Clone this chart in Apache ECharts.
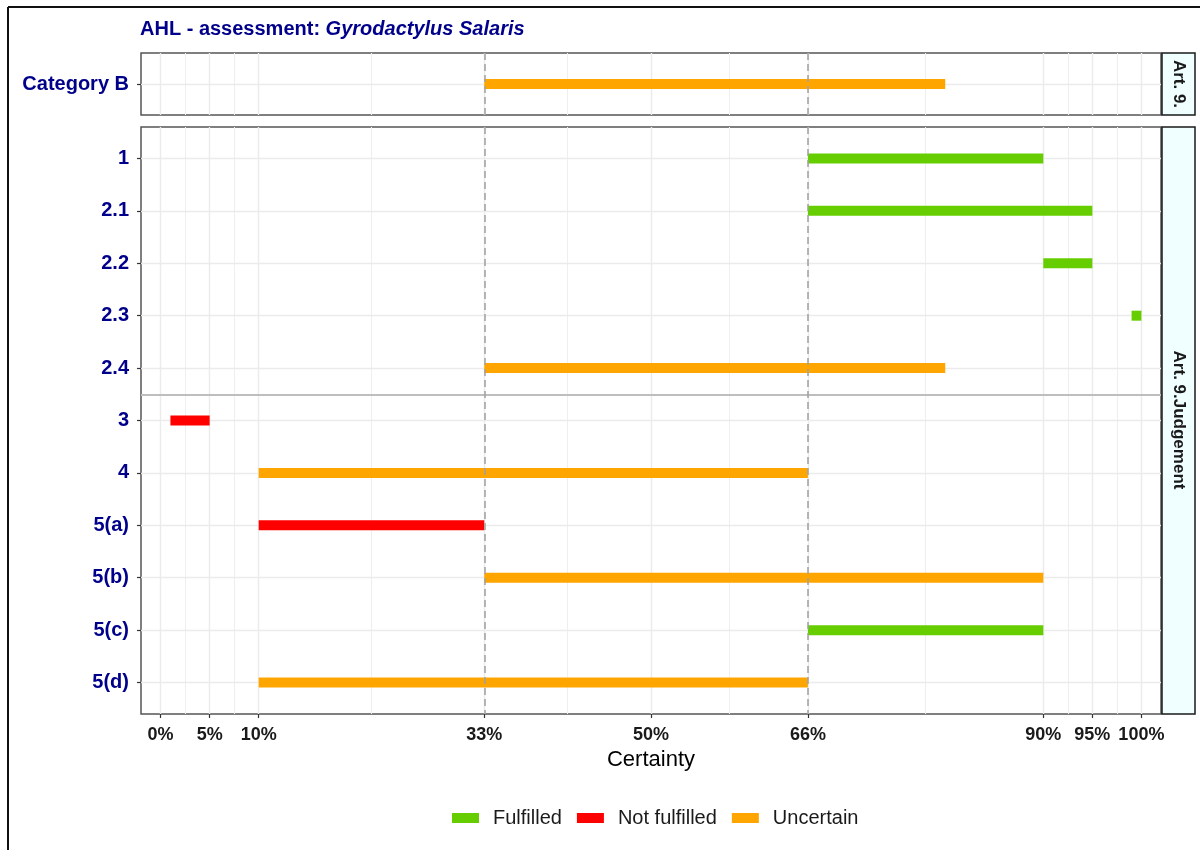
<!DOCTYPE html>
<html>
<head>
<meta charset="utf-8">
<title>AHL - assessment</title>
<script src="https://cdn.jsdelivr.net/npm/echarts@6/dist/echarts.min.js"></script>
<style>
html, body { margin: 0; padding: 0; background: #fff; }
#chart { width: 1200px; height: 850px; }
</style>
</head>
<body>
<div id="chart"></div>
<script>
// rows of the two facets
var topRows = ['Category B'];
var mainRows = ['1', '2.1', '2.2', '2.3', '2.4', '3', '4', '5(a)', '5(b)', '5(c)', '5(d)'];

// certainty range (%) and result for every row
var topLower = [33];
var topUpper = [80];
var topStatus = ['Uncertain'];
var mainLower = [66, 66, 90, 99, 33, 1, 10, 10, 33, 66, 10];
var mainUpper = [90, 95, 95, 100, 80, 5, 66, 33, 90, 90, 66];
var mainStatus = ['Fulfilled', 'Fulfilled', 'Fulfilled', 'Fulfilled', 'Uncertain', 'Not fulfilled',
    'Uncertain', 'Not fulfilled', 'Uncertain', 'Fulfilled', 'Uncertain'];

var statusNames = ['Fulfilled', 'Not fulfilled', 'Uncertain'];
var statusColors = ['#66CD00', '#FF0000', '#FFA500'];

// x breaks
var xBreaks = [0, 5, 10, 33, 50, 66, 90, 95, 100];
var xMinor = [2.5, 7.5, 21.5, 41.5, 58, 78, 92.5, 97.5];
var cutoffs = [33, 66];
var splitAt = 4.5; // between 2.4 and 3
var stripLabels = ['Art. 9.', 'Art. 9.Judgement'];

var darkBlue = '#00008B';
var font = '"Liberation Sans", Arial, Helvetica, sans-serif';

function range(n) {
    var a = [];
    for (var i = 0; i < n; i++) a.push(i);
    return a;
}

function renderBar(params, api) {
    var p0 = api.coord([api.value(0), api.value(2)]);
    var p1 = api.coord([api.value(1), api.value(2)]);
    var h = 10;
    return {
        type: 'rect',
        shape: { x: p0[0], y: p0[1] - h / 2, width: p1[0] - p0[0], height: h },
        style: api.style()
    };
}

var panels = [
    { rows: topRows, lower: topLower, upper: topUpper, status: topStatus },
    { rows: mainRows, lower: mainLower, upper: mainUpper, status: mainStatus }
];

var series = [];
panels.forEach(function (p, g) {
    // grid lines
    var lines = [];
    xMinor.forEach(function (v) {
        lines.push({ xAxis: v, lineStyle: { color: '#EFEFEF', width: 1, type: 'solid' } });
    });
    xBreaks.forEach(function (v) {
        lines.push({ xAxis: v, lineStyle: { color: '#EBEBEB', width: 1.4, type: 'solid' } });
    });
    range(p.rows.length).forEach(function (v) {
        lines.push({ yAxis: v, lineStyle: { color: '#EBEBEB', width: 1.4, type: 'solid' } });
    });
    if (g === 1) {
        lines.push({ yAxis: splitAt, lineStyle: { color: '#BEBEBE', width: 2, type: 'solid' } });
    }
    series.push({
        type: 'line', xAxisIndex: g, yAxisIndex: g, data: [], z: 1, silent: true,
        markLine: { silent: true, z: 1, symbol: ['none', 'none'], label: { show: false }, data: lines }
    });

    // bars per status
    statusNames.forEach(function (name, s) {
        var data = [];
        for (var i = 0; i < p.rows.length; i++) {
            if (p.status[i] === name) data.push([p.lower[i], p.upper[i], i]);
        }
        series.push({
            type: 'custom', name: name, xAxisIndex: g, yAxisIndex: g, z: 3,
            itemStyle: { color: statusColors[s] },
            encode: { x: [0, 1], y: 2 },
            renderItem: renderBar,
            data: data
        });
    });

    // 33% / 66% dashed lines
    series.push({
        type: 'line', xAxisIndex: g, yAxisIndex: g, data: [], z: 6, silent: true,
        markLine: {
            silent: true, z: 6, symbol: ['none', 'none'], label: { show: false },
            lineStyle: { color: '#A0A0A0', width: 1.5, type: [7, 4] },
            data: cutoffs.map(function (v) { return { xAxis: v }; })
        }
    });
});

var chart = echarts.init(document.getElementById('chart'));

var option = {
    animation: false,
    backgroundColor: '#fff',
    textStyle: { fontFamily: font },
    title: {
        text: '{b|AHL - assessment:} {i|Gyrodactylus Salaris}',
        left: 140, top: 19, padding: 0,
        textStyle: {
            fontSize: 20, color: darkBlue, fontFamily: font,
            rich: {
                b: { fontSize: 20, fontWeight: 'bold', color: darkBlue, fontFamily: font },
                i: { fontSize: 20, fontStyle: 'italic', color: darkBlue, fontFamily: font }
            }
        }
    },
    legend: {
        data: statusNames,
        left: 452, top: 808, padding: 0,
        icon: 'rect', itemWidth: 27, itemHeight: 10, itemGap: 15,
        textStyle: { fontSize: 20, color: '#1A1A1A', fontFamily: font, padding: [0, 0, 0, 9] }
    },
    grid: [
        { left: 141, right: 39, top: 53, height: 62, show: true, borderColor: '#555', borderWidth: 1.5 },
        { left: 141, right: 39, top: 127, height: 587, show: true, borderColor: '#555', borderWidth: 1.5 }
    ],
    xAxis: [
        {
            type: 'value', gridIndex: 0, min: -2, max: 102,
            axisLine: { show: false, onZero: false }, axisTick: { show: false },
            axisLabel: { show: false }, splitLine: { show: false }
        },
        {
            type: 'value', gridIndex: 1, min: -2, max: 102,
            name: 'Certainty', nameLocation: 'middle', nameGap: 33,
            nameTextStyle: { fontSize: 22, color: '#000', fontFamily: font },
            axisLine: { show: false, onZero: false },
            axisTick: { show: true, customValues: xBreaks, length: 4, lineStyle: { color: '#333', width: 1.2 } },
            axisLabel: {
                customValues: xBreaks, margin: 12,
                formatter: function (v) { return v + '%'; },
                fontSize: 18, fontWeight: 'bold', color: '#1A1A1A', fontFamily: font
            },
            splitLine: { show: false }
        }
    ],
    yAxis: panels.map(function (p, g) {
        var ticks = range(p.rows.length);
        return {
            type: 'value', gridIndex: g, inverse: true,
            min: -0.6, max: p.rows.length - 1 + 0.6,
            axisLine: { show: false, onZero: false },
            axisTick: { show: true, customValues: ticks, length: 4, lineStyle: { color: '#333', width: 1.2 } },
            axisLabel: {
                customValues: ticks, margin: 12,
                formatter: function (v) { return p.rows[Math.round(v)]; },
                fontSize: 20, fontWeight: 'bold', color: darkBlue, fontFamily: font
            },
            splitLine: { show: false }
        };
    }),
    graphic: [
        // outer frame
        { type: 'line', shape: { x1: 8, y1: 7, x2: 8, y2: 850 }, style: { stroke: '#111', lineWidth: 2 } },
        { type: 'line', shape: { x1: 8, y1: 7, x2: 1200, y2: 7 }, style: { stroke: '#111', lineWidth: 2 } },
        // facet strips
        { type: 'rect', shape: { x: 1162, y: 53, width: 33, height: 62 }, style: { fill: '#F0FFFF', stroke: '#1A1A1A', lineWidth: 1.5 } },
        { type: 'rect', shape: { x: 1162, y: 127, width: 33, height: 587 }, style: { fill: '#F0FFFF', stroke: '#1A1A1A', lineWidth: 1.5 } },
        {
            type: 'text', x: 1178.5, y: 84, rotation: -Math.PI / 2,
            style: { text: stripLabels[0], align: 'center', verticalAlign: 'middle', fill: '#1A1A1A', font: 'bold 17px ' + font }
        },
        {
            type: 'text', x: 1178.5, y: 420, rotation: -Math.PI / 2,
            style: { text: stripLabels[1], align: 'center', verticalAlign: 'middle', fill: '#1A1A1A', font: 'bold 17px ' + font }
        }
    ],
    series: series
};

chart.setOption(option);
</script>
</body>
</html>
